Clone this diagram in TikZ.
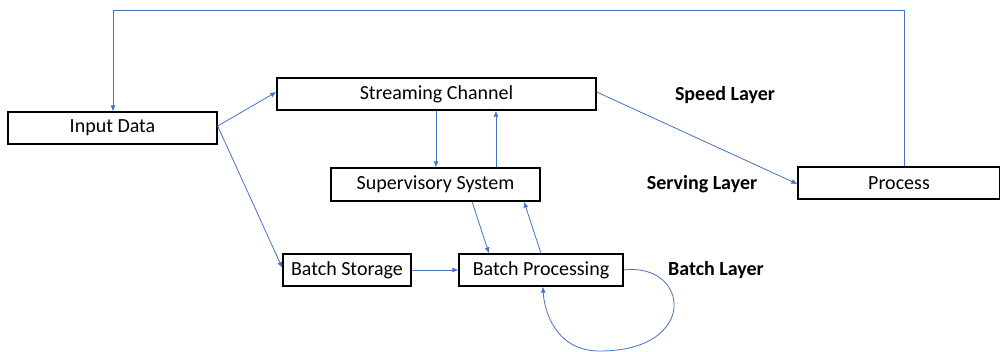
\documentclass[tikz,border=0pt]{standalone}
\usepackage{fontspec}
\setmainfont{Carlito}
\usetikzlibrary{arrows.meta}
\definecolor{flow}{HTML}{4472C4}
\tikzset{
  box/.style={draw=black, line width=1.3pt, fill=white, inner sep=0pt,
              font=\fontsize{20}{24}\selectfont},
  layer/.style={font=\bfseries\fontsize{20}{24}\selectfont},
  link/.style={draw=flow, line width=0.8pt, -{Latex[length=6pt,width=5pt]}}
}
\begin{document}
\begin{tikzpicture}[x=1pt, y=-1pt]
\useasboundingbox (0,0) rectangle (1000,351);

% components
\node[box, minimum width=209pt, minimum height=32pt] (input)  at (112.5,128) {Input Data};
\node[box, minimum width=319pt, minimum height=32pt] (stream) at (436.5,94)  {Streaming Channel};
\node[box, minimum width=209pt, minimum height=33pt] (super)  at (435.5,184.5) {Supervisory System};
\node[box, minimum width=128pt, minimum height=32pt] (bstore) at (347,270) {Batch Storage};
\node[box, minimum width=164pt, minimum height=32pt] (bproc)  at (541,270) {Batch Processing};
\node[box, minimum width=202pt, minimum height=32pt] (proc)   at (899,183) {Process};

% layer captions
\node[layer] (speed)   at (725,95)  {Speed Layer};
\node[layer] (serving) at (702,184) {Serving Layer};
\node[layer] (batch)   at (716,270) {Batch Layer};

% feedback from the process back to the input
\coordinate (fbR) at (904,10);
\coordinate (fbL) at (113,10);
\draw[link] (proc.north -| fbR) -- (fbR) -- (fbL) -- (input.north -| fbL);

% input fans out to streaming and batch paths
\draw[link] ([yshift=2pt]input.east) -- ([yshift=2pt]stream.west);
\draw[link] ([yshift=2pt]input.east) -- ([yshift=2pt]bstore.west);

% streaming <-> supervisory
\draw[link] (stream.south -| 436,0) -- (super.north -| 436,0);
\draw[link] (super.north -| 496,0) -- (stream.south -| 496,0);

% supervisory <-> batch processing
\draw[link] (super.south -| 472,0) -- (bproc.north -| 489,0);
\draw[link] (bproc.north -| 541,0) -- (super.south -| 524,0);

% batch storage feeds batch processing
\draw[link] (bstore.east) -- (bproc.west);

% batch processing self loop
\draw[link] (bproc.east) .. controls (690,262) and (700,352) .. (598,351)
                         .. controls (555,350) and (544,310) .. (bproc.south -| 543,0);

% streaming output to the process
\draw[link] ([yshift=2pt]stream.east) -- ([yshift=-1pt]proc.west);
\end{tikzpicture}
\end{document}
